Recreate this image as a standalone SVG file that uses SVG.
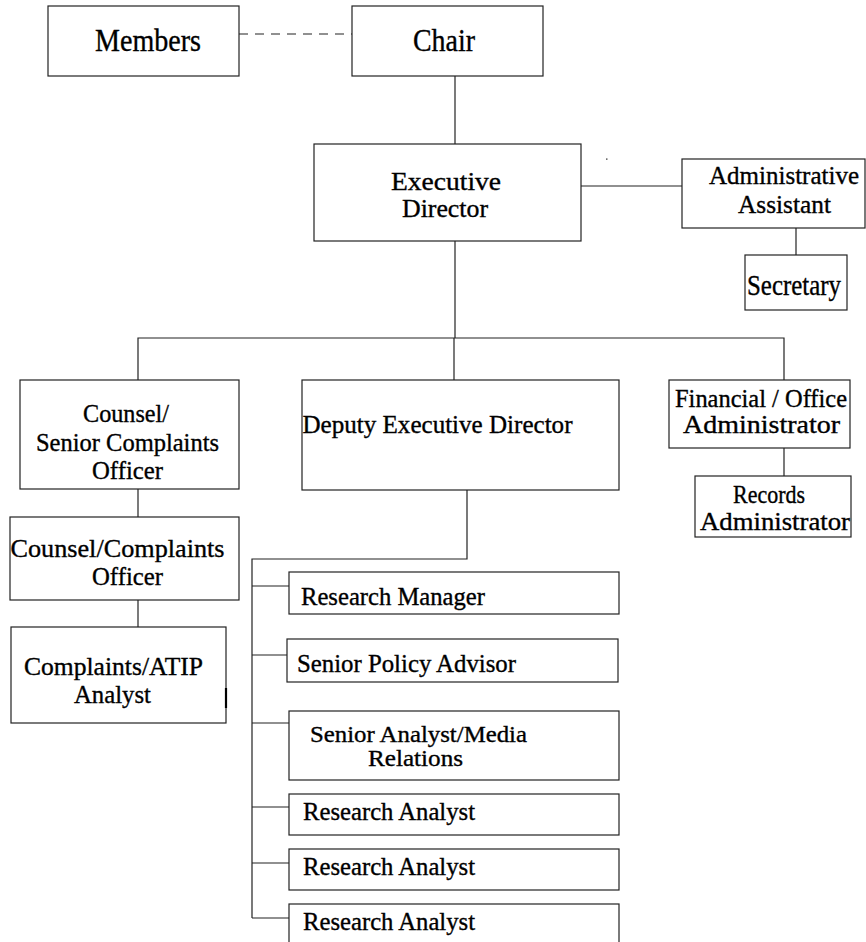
<svg xmlns="http://www.w3.org/2000/svg" width="866" height="942" viewBox="0 0 866 942">
<style>
.box{fill:#fff;stroke:#222;stroke-width:1.2}
.ln{fill:none;stroke:#222;stroke-width:1.2}
.t{font-family:'Liberation Serif','Times New Roman',Times,'DejaVu Serif',serif;fill:#000;stroke:#000;stroke-width:0.35}
</style>
<rect width="866" height="942" fill="#fff"/>
<g id="connectors">
<line class="ln" x1="239" y1="34" x2="352" y2="34" stroke-dasharray="9,7"/>
<line class="ln" x1="455" y1="76" x2="455" y2="144"/>
<line class="ln" x1="581" y1="186" x2="682" y2="186"/>
<line class="ln" x1="796" y1="228" x2="796" y2="255"/>
<line class="ln" x1="455" y1="241" x2="455" y2="338"/>
<polyline class="ln" points="138,380 138,338 784,338 784,380"/>
<line class="ln" x1="454" y1="338" x2="454" y2="380"/>
<line class="ln" x1="138" y1="489" x2="138" y2="517"/>
<line class="ln" x1="138" y1="600" x2="138" y2="627"/>
<line class="ln" x1="784" y1="448" x2="784" y2="476"/>
<polyline class="ln" points="467,490 467,559 252,559 252,918"/>
<line class="ln" x1="252" y1="586" x2="289" y2="586"/>
<line class="ln" x1="252" y1="655" x2="289" y2="655"/>
<line class="ln" x1="252" y1="723" x2="289" y2="723"/>
<line class="ln" x1="252" y1="807" x2="289" y2="807"/>
<line class="ln" x1="252" y1="863" x2="289" y2="863"/>
<line class="ln" x1="252" y1="918" x2="289" y2="918"/>
</g>
<g id="members"><rect class="box" x="48" y="6" width="191" height="70"/><text class="t" x="95" y="51" font-size="32" textLength="106" lengthAdjust="spacingAndGlyphs">Members</text></g>
<g id="chair"><rect class="box" x="352" y="6" width="191" height="70"/><text class="t" x="413" y="51" font-size="32" textLength="62" lengthAdjust="spacingAndGlyphs">Chair</text></g>
<g id="executive-director"><rect class="box" x="314" y="144" width="267" height="97"/><text class="t" x="391" y="190" font-size="26" textLength="110" lengthAdjust="spacingAndGlyphs">Executive</text><text class="t" x="402" y="217" font-size="26" textLength="86" lengthAdjust="spacingAndGlyphs">Director</text></g>
<g id="admin-assistant"><rect class="box" x="682" y="159" width="183" height="69"/><text class="t" x="709" y="184" font-size="26" textLength="150" lengthAdjust="spacingAndGlyphs">Administrative</text><text class="t" x="738" y="213" font-size="26" textLength="93" lengthAdjust="spacingAndGlyphs">Assistant</text></g>
<rect x="606" y="158.5" width="1.5" height="1.2" fill="#333"/>
<g id="secretary"><rect class="box" x="745" y="255" width="102" height="55"/><text class="t" x="747" y="295" font-size="29" textLength="94" lengthAdjust="spacingAndGlyphs">Secretary</text></g>
<g id="counsel-senior"><rect class="box" x="20" y="380" width="219" height="109"/><text class="t" x="83" y="422" font-size="26" textLength="86" lengthAdjust="spacingAndGlyphs">Counsel/</text><text class="t" x="36" y="451" font-size="26" textLength="183" lengthAdjust="spacingAndGlyphs">Senior Complaints</text><text class="t" x="92" y="479" font-size="26" textLength="71" lengthAdjust="spacingAndGlyphs">Officer</text></g>
<g id="counsel-complaints"><rect class="box" x="10" y="517" width="229" height="83"/><text class="t" x="10.5" y="557" font-size="26" textLength="214" lengthAdjust="spacingAndGlyphs">Counsel/Complaints</text><text class="t" x="92" y="585" font-size="26" textLength="71" lengthAdjust="spacingAndGlyphs">Officer</text></g>
<g id="complaints-atip"><rect class="box" x="11" y="627" width="215" height="96"/><line x1="226" y1="688" x2="226" y2="708" stroke="#000" stroke-width="2.2"/><text class="t" x="24" y="675" font-size="26" textLength="179" lengthAdjust="spacingAndGlyphs">Complaints/ATIP</text><text class="t" x="74" y="703" font-size="26" textLength="77" lengthAdjust="spacingAndGlyphs">Analyst</text></g>
<g id="deputy"><rect class="box" x="302" y="380" width="317" height="110"/><text class="t" x="302.5" y="433" font-size="25" textLength="270" lengthAdjust="spacingAndGlyphs">Deputy Executive Director</text></g>
<g id="financial"><rect class="box" x="669" y="380" width="181" height="68"/><text class="t" x="675" y="407" font-size="25" textLength="172" lengthAdjust="spacingAndGlyphs">Financial / Office</text><text class="t" x="683" y="433" font-size="25" textLength="157" lengthAdjust="spacingAndGlyphs">Administrator</text></g>
<g id="records"><rect class="box" x="695" y="476" width="156" height="61"/><text class="t" x="733" y="503" font-size="26" textLength="72" lengthAdjust="spacingAndGlyphs">Records</text><text class="t" x="700" y="530" font-size="26" textLength="150" lengthAdjust="spacingAndGlyphs">Administrator</text></g>
<g id="research-manager"><rect class="box" x="289" y="572" width="330" height="42"/><text class="t" x="301" y="605" font-size="25" textLength="184" lengthAdjust="spacingAndGlyphs">Research Manager</text></g>
<g id="senior-policy"><rect class="box" x="287" y="639" width="331" height="43"/><text class="t" x="297" y="672" font-size="25" textLength="219" lengthAdjust="spacingAndGlyphs">Senior Policy Advisor</text></g>
<g id="senior-analyst"><rect class="box" x="289" y="711" width="330" height="69"/><text class="t" x="310" y="742" font-size="24" textLength="217" lengthAdjust="spacingAndGlyphs">Senior Analyst/Media</text><text class="t" x="368" y="766" font-size="24" textLength="95" lengthAdjust="spacingAndGlyphs">Relations</text></g>
<g id="research-analyst-1"><rect class="box" x="289" y="794" width="330" height="41"/><text class="t" x="303" y="820" font-size="25" textLength="172" lengthAdjust="spacingAndGlyphs">Research Analyst</text></g>
<g id="research-analyst-2"><rect class="box" x="289" y="849" width="330" height="41"/><text class="t" x="303" y="875" font-size="25" textLength="172" lengthAdjust="spacingAndGlyphs">Research Analyst</text></g>
<g id="research-analyst-3"><rect class="box" x="289" y="904" width="330" height="50"/><text class="t" x="303" y="930" font-size="25" textLength="172" lengthAdjust="spacingAndGlyphs">Research Analyst</text></g>
</svg>
